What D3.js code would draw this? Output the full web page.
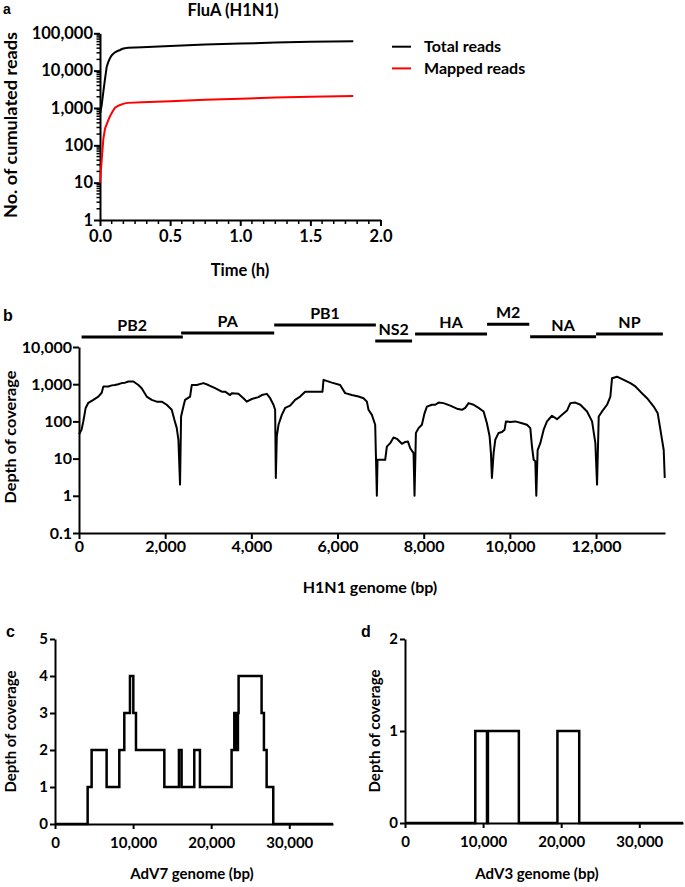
<!DOCTYPE html>
<html><head><meta charset="utf-8">
<script src="https://cdn.jsdelivr.net/npm/d3@7"></script>
<style>
body{margin:0;background:#fff}
text{font-family:Lato,'Open Sans',sans-serif;font-weight:bold;fill:#000}
</style></head>
<body><svg id="fig" width="685" height="887"></svg>
<script>
// ---------- DATA ----------
// Panel a: cumulated reads over time
const timeH = [0, 0.006, 0.012, 0.024, 0.036, 0.048, 0.06, 0.071, 0.083, 0.095, 0.107, 0.125, 0.143, 0.16, 0.178, 0.2, 0.3, 0.5, 0.75, 1.0, 1.25, 1.5, 1.806];
const totalReads = [700, 900, 1200, 2750, 6100, 12800, 17500, 21500, 25500, 28500, 31000, 33500, 35700, 38500, 40000, 41000, 42500, 46000, 50000, 53000, 56500, 59000, 61000];
const mappedReads = [10, 20, 40, 150, 280, 370, 480, 600, 720, 870, 1020, 1120, 1200, 1270, 1330, 1370, 1420, 1520, 1650, 1780, 1900, 2000, 2100];
const seriesNames = ["Total reads", "Mapped reads"];
const timeTicks = [0, 0.5, 1.0, 1.5, 2.0];
const readTicks = [1, 10, 100, 1000, 10000, 100000];

// Panel b: H1N1 depth of coverage
const h1n1Pos = [0,25,60,100,155,217,333,449,527,565,681,760,836,910,991,1070,1146,1262,1378,1455,1571,1688,1804,1920,2036,2152,2214,2268,2307,2345,
 2369,2423,2462,2578,2617,2733,2888,3003,3158,3314,3391,3507,3546,3700,3816,3894,4010,4165,4242,4359,4436,4513,4552,4568,
 4591,4630,4707,4784,4900,5016,5132,5249,5404,5520,5651,5675,5868,6061,6177,6332,6487,6603,6681,6719,6797,6874,6913,
 6928,7106,7145,7222,7299,7378,7494,7571,7633,7687,7764,7787,
 7819,7880,7958,8019,8074,8191,8268,8345,8461,8616,8771,8887,8964,9042,9157,9273,9390,9467,9529,9560,9583,
 9622,9661,9738,9816,9877,9909,10009,10126,10281,10397,10474,10513,10552,10590,10613,
 10644,10706,10784,10861,10977,11094,11210,11326,11403,11519,11636,11791,11907,11984,12023,
 12062,12139,12255,12332,12371,12487,12642,12797,12913,13029,13184,13338,13431,13493,13570,13594];
const h1n1Depth = [45,50,60,100,230,316,380,465,590,870,870,930,950,1000,1070,1100,1180,1180,950,780,465,380,340,340,280,205,110,67,32,2,
 135,250,380,465,950,950,1070,950,780,630,630,510,575,550,420,340,400,450,510,550,420,280,205,3,
 40,81,150,230,265,380,465,630,630,630,630,1310,1100,950,575,510,465,420,340,205,150,81,1,
 9.3,9.3,21,26,37,34,25,28,29,19,14,1,
 49,66,81,165,250,280,280,320,310,265,220,205,230,310,280,230,185,89,40,14,3,
 14,32,49,52,60,100,97,100,89,81,66,21,9.3,8.5,1,
 17,26,60,100,142,115,150,195,310,320,280,185,100,26,2,
 135,185,280,465,1450,1590,1300,1070,870,630,420,250,165,60,17,3];
const geneNames = ["PB2", "PA", "PB1", "NS2", "HA", "M2", "NA", "NP"];
const geneStart = [60, 2370, 4530, 6875, 7800, 9470, 10470, 12000];
const geneEnd   = [2410, 4530, 6890, 7730, 9470, 10450, 12000, 13550];
const genomeTicksB = [0, 2000, 4000, 6000, 8000, 10000, 12000];
const depthTicksB = [0.1, 1, 10, 100, 1000, 10000];

// Panel c: AdV7 step coverage (value holds from position until the next)
const adv7Pos   = [0, 4180, 4690, 6610, 8235, 8875, 9600, 10030, 10370, 14000, 15870, 16210, 17835, 18560, 22615, 22960, 23170, 23426, 23511, 26455, 26755, 27100, 27950, 35600];
const adv7Depth = [0, 1, 2, 1, 2, 3, 4, 3, 2, 1, 2, 1, 2, 1, 2, 3, 2, 3, 4, 3, 2, 1, 0, 0];
const depthTicksC = [0, 1, 2, 3, 4, 5];

// Panel d: AdV3 step coverage
const adv3Pos   = [0, 9000, 10500, 10620, 14580, 19520, 22310, 35600];
const adv3Depth = [0, 1, 0, 1, 0, 1, 0, 0];
const depthTicksD = [0, 1, 2];
const genomeTicksCD = [0, 10000, 20000, 30000];

// ---------- DRAW ----------
const svg = d3.select("#fig");
const fmtComma = d3.format(",");

function styleAxis(g, fs) {
  g.select(".domain").attr("stroke", "#000").attr("stroke-width", 2);
  g.selectAll(".tick line").attr("stroke", "#000").attr("stroke-width", 2);
  g.selectAll(".tick text").attr("font-size", fs).attr("font-weight", "bold")
    .attr("font-family", "Lato, 'Open Sans', sans-serif").attr("fill", "#000");
}
function panelLetter(t, x, y, fs) {
  svg.append("text").attr("x", x).attr("y", y).attr("font-size", fs || 16)
    .style("font-family", "'Liberation Sans', Arial, sans-serif").text(t);
}
function yTitle(t, x, y, fs, len) {
  svg.append("text").attr("transform", `translate(${x},${y}) rotate(-90)`)
    .attr("text-anchor", "middle").attr("font-size", fs)
    .attr("textLength", len).attr("lengthAdjust", "spacingAndGlyphs").text(t);
}
function xTitle(t, x, y, fs) {
  svg.append("text").attr("x", x).attr("y", y).attr("text-anchor", "middle")
    .attr("font-size", fs).text(t);
}

// ===== Panel a =====
{
  const x = d3.scaleLinear().domain([0, 2]).range([100, 380.5]);
  const y = d3.scaleLog().domain([1, 1e5]).range([220, 33.3]);
  const minorY = [];
  for (let k = 0; k < 5; k++) for (let m = 2; m <= 9; m++) minorY.push(m * Math.pow(10, k));
  svg.append("g").selectAll("line").data(minorY).join("line")
    .attr("x1", x(0) - 3.5).attr("x2", x(0)).attr("y1", d => y(d)).attr("y2", d => y(d))
    .attr("stroke", "#000").attr("stroke-width", 1.5);
  const minorX = d3.range(1, 24).filter(i => i % 6 !== 0).map(i => i / 12);
  svg.append("g").selectAll("line").data(minorX).join("line")
    .attr("x1", d => x(d)).attr("x2", d => x(d)).attr("y1", y(1)).attr("y2", y(1) + 4)
    .attr("stroke", "#000").attr("stroke-width", 1.5);

  const gy = svg.append("g").attr("transform", `translate(${x(0)},0)`)
    .call(d3.axisLeft(y).tickValues(readTicks).tickFormat(fmtComma).tickSize(6).tickSizeOuter(0).tickPadding(1));
  styleAxis(gy, 16.5);
  const gx = svg.append("g").attr("transform", `translate(0,${y(1)})`)
    .call(d3.axisBottom(x).tickValues(timeTicks).tickFormat(d3.format(".1f")).tickSize(6).tickSizeOuter(0).tickPadding(4));
  styleAxis(gx, 16.5);

  const line = d3.line().x((d, i) => x(timeH[i])).y(d => y(d));
  svg.append("path").attr("d", line(totalReads)).attr("fill", "none").attr("stroke", "#000").attr("stroke-width", 2);
  svg.append("path").attr("d", line(mappedReads)).attr("fill", "none").attr("stroke", "#ff0000").attr("stroke-width", 2);

  xTitle("FluA (H1N1)", 233, 16, 16.5);
  yTitle("No. of cumulated reads", 17, 125, 16.5, 186);
  xTitle("Time (h)", 240, 276, 16.5);
  panelLetter("a", 3, 13.5, 14);

  const colors = ["#000", "#ff0000"];
  const leg = svg.append("g").selectAll("g").data(seriesNames).join("g")
    .attr("transform", (d, i) => `translate(392,${46.7 + i * 21.7})`);
  leg.append("line").attr("x1", 0).attr("x2", 19).attr("stroke", (d, i) => colors[i]).attr("stroke-width", 2);
  leg.append("text").attr("x", 32).attr("dy", "0.35em").attr("font-size", 16).text(d => d);
}

// ===== Panel b =====
{
  const x = d3.scaleLinear().domain([0, 13600]).range([79, 665]);
  const y = d3.scaleLog().domain([0.1, 10000]).range([533, 347]);
  const gy = svg.append("g").attr("transform", `translate(${x(0)},0)`)
    .call(d3.axisLeft(y).tickValues(depthTicksB).tickFormat(d => d < 1 ? d3.format(".1f")(d) : fmtComma(d)).tickSize(6).tickSizeOuter(0).tickPadding(1));
  styleAxis(gy, 16);
  const gx = svg.append("g").attr("transform", `translate(0,${y(0.1)})`)
    .call(d3.axisBottom(x).tickValues(genomeTicksB).tickFormat(fmtComma).tickSize(6).tickSizeOuter(0).tickPadding(2));
  styleAxis(gx, 16);

  const line = d3.line().x((d, i) => x(h1n1Pos[i])).y(d => y(d));
  svg.append("path").attr("d", line(h1n1Depth)).attr("fill", "none").attr("stroke", "#000")
    .attr("stroke-width", 2).attr("stroke-linejoin", "round");

  const barY = [337, 333, 325, 341, 334, 324.3, 336.7, 334];
  const genes = svg.append("g").selectAll("g").data(geneNames).join("g");
  genes.append("line").attr("x1", (d, i) => x(geneStart[i])).attr("x2", (d, i) => x(geneEnd[i]))
    .attr("y1", (d, i) => barY[i]).attr("y2", (d, i) => barY[i]).attr("stroke", "#000").attr("stroke-width", 3);
  genes.append("text").attr("x", (d, i) => (x(geneStart[i]) + x(geneEnd[i])) / 2)
    .attr("y", (d, i) => barY[i] - 6).attr("text-anchor", "middle").attr("font-size", 16).text(d => d);

  yTitle("Depth of coverage", 16, 437, 16, 133);
  xTitle("H1N1 genome (bp)", 370, 593, 16);
  panelLetter("b", 3, 321);
}

// ===== Panel c & d =====
function stepPanel(pos, depth, xr, yr, yTicks, letter, lx, xt, ytx, xtx, ylen) {
  const x = d3.scaleLinear().domain([0, 35600]).range(xr);
  const y = d3.scaleLinear().domain([0, yTicks[yTicks.length - 1]]).range(yr);
  const gy = svg.append("g").attr("transform", `translate(${xr[0]},0)`)
    .call(d3.axisLeft(y).tickValues(yTicks).tickFormat(d3.format("d")).tickSize(5).tickSizeOuter(0).tickPadding(2));
  styleAxis(gy, 15);
  const gx = svg.append("g").attr("transform", `translate(0,${yr[0]})`)
    .call(d3.axisBottom(x).tickValues(genomeTicksCD).tickFormat(fmtComma).tickSize(5).tickSizeOuter(0).tickPadding(8));
  styleAxis(gx, 15);
  const line = d3.line().curve(d3.curveStepAfter).x((d, i) => x(pos[i])).y(d => y(d));
  svg.append("path").attr("d", line(depth)).attr("fill", "none").attr("stroke", "#000")
    .attr("stroke-width", 2.5).attr("stroke-linejoin", "miter");
  yTitle("Depth of coverage", ytx, (yr[0] + yr[1]) / 2, 15, ylen);
  xTitle(xt, xtx, 879, 15);
  panelLetter(letter, lx, 637);
}
stepPanel(adv7Pos, adv7Depth, [55, 333], [824, 639], depthTicksC, "c", 6, "AdV7 genome (bp)", 16, 192, 122);
stepPanel(adv3Pos, adv3Depth, [405, 683], [823, 639], depthTicksD, "d", 361, "AdV3 genome (bp)", 380, 537, 123);
</script></body></html>
